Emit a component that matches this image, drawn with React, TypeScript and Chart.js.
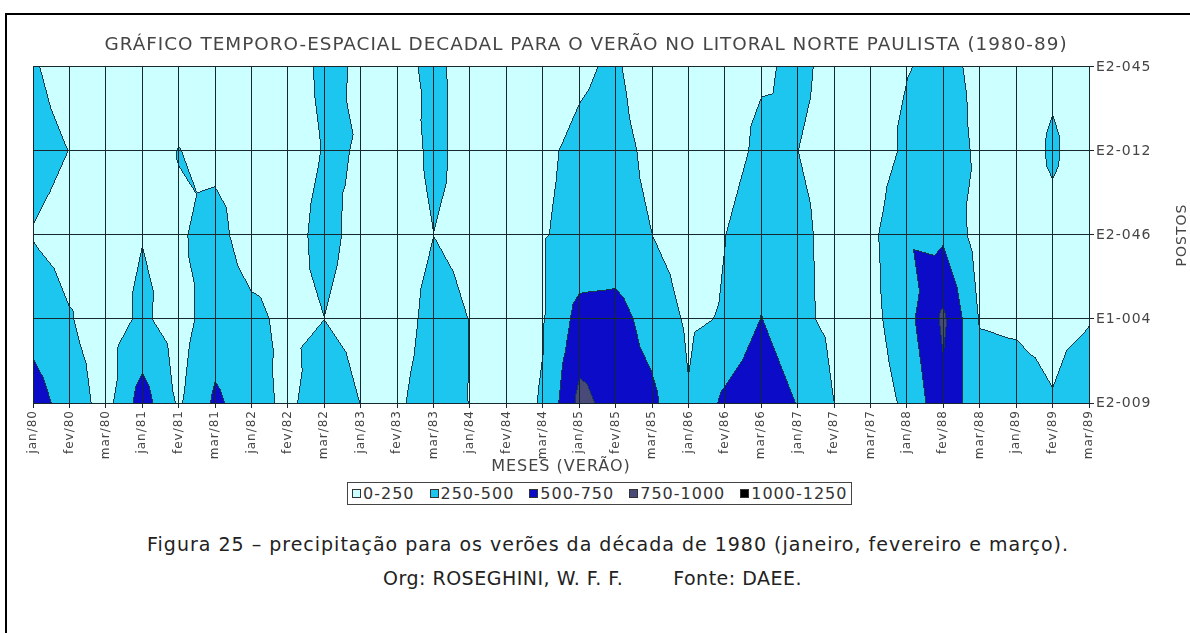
import React, { useEffect, useRef } from 'react';
import { Chart, registerables } from 'chart.js';

Chart.register(...registerables);

// ---------- data ----------
const months = ['jan/80','fev/80','mar/80','jan/81','fev/81','mar/81','jan/82','fev/82','mar/82','jan/83','fev/83','mar/83','jan/84','fev/84','mar/84','jan/85','fev/85','mar/85','jan/86','fev/86','mar/86','jan/87','fev/87','mar/87','jan/88','fev/88','mar/88','jan/89','fev/89','mar/89'];
const stations = ['E2-045', 'E2-012', 'E2-046', 'E1-004', 'E2-009'];

// precipitation (mm) per station, one value per month
const e2_045 = [275,150,120,150,160,170,150,135,300,224,199,290,185,150,150,220,280,122,150,180,223,290,199,180,242,300,209,150,201,150];
const e2_012 = [330,248,140,170,255,200,180,160,262,245,133,300,178,150,220,290,320,203,150,161,300,252,200,115,300,350,217,100,290,100];
const e2_046 = [240,170,200,245,228,320,150,170,320,177,150,250,200,160,240,300,330,252,150,248,390,290,200,190,480,463,145,150,174,150];
const e1_004 = [403,265,150,290,150,380,300,200,250,150,148,330,247,170,240,590,600,400,215,267,510,300,200,170,420,800,240,225,200,240];
const e2_009 = [618,391,160,623,220,545,380,180,460,248,220,350,246,170,265,820,660,560,270,560,700,490,252,120,300,696,330,330,262,365];
const stationValues = [e2_045, e2_012, e2_046, e1_004, e2_009];

const bandLimits = [250, 500, 750, 1000];
const bandLabels = ['0-250', '250-500', '500-750', '750-1000', '1000-1250'];
const bandColors = ['#ccffff', '#1cc6ee', '#0c0cc8', '#4a4a78', '#000000'];

const FONT = '"DejaVu Sans", Verdana, sans-serif';
const TEXT = '#454545';
const GRID = '#15282e';
const OUTLINE = '#173a48';

function hexToRgb(h: string) {
  const n = parseInt(h.slice(1), 16);
  return [(n >> 16) & 255, (n >> 8) & 255, n & 255];
}

// Fills the contour bands (each grid cell split in 4 triangles around its mean value)
const contourPlugin = {
  id: 'contourFill',
  beforeDatasetsDraw(chart: any) {
    const ctx = chart.ctx;
    const xs = chart.scales.x;
    const ys = chart.scales.y;
    const ds = chart.data.datasets;
    const nR = ds.length;
    const nC = ds[0].data.length;
    const grid: number[][] = ds.map((d: any) => d.data.map((p: any) => p.v));
    const px0 = xs.getPixelForValue(0);
    const px1 = xs.getPixelForValue(nC - 1);
    const py0 = ys.getPixelForValue(0);
    const py1 = ys.getPixelForValue(nR - 1);
    const left = Math.round(px0);
    const top = Math.round(py0);
    const W = Math.round(px1) - left + 1;
    const H = Math.round(py1) - top + 1;
    const cw = (px1 - px0) / (nC - 1);
    const rh = (py1 - py0) / (nR - 1);
    const band = new Uint8Array(W * H);
    for (let y = 0; y < H; y++) {
      const fy = (top + y + 0.5 - py0) / rh;
      let j = Math.floor(fy);
      if (j < 0) j = 0;
      if (j > nR - 2) j = nR - 2;
      const v = Math.min(1, Math.max(0, fy - j));
      for (let x = 0; x < W; x++) {
        const fx = (left + x + 0.5 - px0) / cw;
        let i = Math.floor(fx);
        if (i < 0) i = 0;
        if (i > nC - 2) i = nC - 2;
        const u = Math.min(1, Math.max(0, fx - i));
        const a = grid[j][i], b = grid[j][i + 1], d = grid[j + 1][i], e = grid[j + 1][i + 1];
        const c = (a + b + d + e) / 4;
        let f: number;
        if (v <= u && v <= 1 - u) f = a + (b - a) * u + (2 * c - a - b) * v;
        else if (v >= u && v >= 1 - u) f = d + (e - d) * u + (2 * c - d - e) * (1 - v);
        else if (u <= v && u <= 1 - v) f = a + (d - a) * v + (2 * c - a - d) * u;
        else f = b + (e - b) * v + (2 * c - b - e) * (1 - u);
        let k = 0;
        while (k < bandLimits.length && f >= bandLimits[k]) k++;
        band[y * W + x] = k;
      }
    }
    const off = document.createElement('canvas');
    off.width = W;
    off.height = H;
    const octx = off.getContext('2d')!;
    const img = octx.createImageData(W, H);
    const cols = bandColors.map(hexToRgb);
    const oc = hexToRgb(OUTLINE);
    for (let y = 0; y < H; y++) {
      for (let x = 0; x < W; x++) {
        const idx = y * W + x;
        const k = band[idx];
        let edge = false;
        if (x > 0 && band[idx - 1] < k) edge = true;
        else if (x < W - 1 && band[idx + 1] < k) edge = true;
        else if (y > 0 && band[idx - W] < k) edge = true;
        else if (y < H - 1 && band[idx + W] < k) edge = true;
        const col = edge ? oc : cols[k];
        img.data[idx * 4] = col[0];
        img.data[idx * 4 + 1] = col[1];
        img.data[idx * 4 + 2] = col[2];
        img.data[idx * 4 + 3] = 255;
      }
    }
    octx.putImageData(img, 0, 0);
    ctx.save();
    ctx.drawImage(off, left, top);
    ctx.restore();
  },
};

const spacingPlugin = {
  id: 'letterSpacing',
  beforeDraw(chart: any) {
    (chart.ctx as any).letterSpacing = '1px';
  },
};

const postosPlugin = {
  id: 'postosTitle',
  afterDraw(chart: any) {
    const { ctx, chartArea } = chart;
    ctx.save();
    ctx.font = `14px ${FONT}`;
    ctx.fillStyle = TEXT;
    ctx.textAlign = 'center';
    ctx.textBaseline = 'alphabetic';
    ctx.translate(1186, (chartArea.top + chartArea.bottom) / 2);
    ctx.rotate(-Math.PI / 2);
    ctx.fillText('POSTOS', 0, 0);
    ctx.restore();
  },
};

export default function App() {
  const ref = useRef<HTMLCanvasElement>(null);

  useEffect(() => {
    if (!ref.current) return;
    const datasets = stations.map((s, r) => ({
      label: s,
      xAxisID: 'x',
      yAxisID: 'y',
      data: months.map((m, c) => ({ x: m, y: s, v: stationValues[r][c] })),
      pointRadius: 0,
      pointHoverRadius: 0,
      showLine: false,
    }));
    const chart = new Chart(ref.current, {
      type: 'scatter',
      data: { datasets } as any,
      options: {
        animation: false,
        responsive: true,
        maintainAspectRatio: false,
        events: [],
        layout: { padding: { left: 0, right: 18, top: 0, bottom: 0 } },
        plugins: {
          legend: { display: false },
          tooltip: { enabled: false },
          title: {
            display: true,
            text: 'GRÁFICO TEMPORO-ESPACIAL DECADAL PARA O VERÃO NO LITORAL NORTE PAULISTA (1980-89)',
            color: TEXT,
            font: { family: FONT, size: 18.4, weight: 'normal' },
            padding: { top: 34, bottom: 10.9 },
          },
        },
        scales: {
          yl: {
            type: 'linear',
            position: 'left',
            min: 0,
            max: 1,
            grid: { display: false },
            border: { display: false },
            ticks: { display: false },
            afterFit: (s: any) => { s.width = 33; },
          },
          x: {
            type: 'category',
            labels: months,
            position: 'bottom',
            offset: false,
            grid: { color: GRID, lineWidth: 1, tickLength: 5, drawTicks: true, offset: false, z: 1 },
            border: { display: true, color: GRID, width: 1, z: 1 },
            ticks: {
              autoSkip: false,
              maxRotation: 90,
              minRotation: 90,
              padding: 2,
              color: TEXT,
              font: { family: FONT, size: 12 },
            },
            title: {
              display: true,
              text: 'MESES (VERÃO)',
              color: TEXT,
              font: { family: FONT, size: 16 },
              padding: { top: 0, bottom: 0.4 },
            },
            afterFit: (s: any) => { s.height = 74; },
          },
          y: {
            type: 'category',
            labels: stations,
            position: 'right',
            offset: false,
            grid: { color: GRID, lineWidth: 1, tickLength: 5, drawTicks: true, offset: false, z: 1 },
            border: { display: true, color: GRID, width: 1, z: 1 },
            ticks: { padding: 2, color: TEXT, font: { family: FONT, size: 14 } },
            afterFit: (s: any) => { s.width = 83; },
          },
        },
      } as any,
      plugins: [spacingPlugin, contourPlugin, postosPlugin],
    });
    return () => chart.destroy();
  }, []);

  return (
    <div style={{ position: 'fixed', left: 0, top: 0, width: 1190, height: 633, background: '#ffffff', overflow: 'hidden', fontFamily: FONT }}>
      <div style={{ position: 'absolute', left: 5, top: 13, width: 1200, height: 640, borderTop: '2px solid #000', borderLeft: '2px solid #000' }} />
      <div style={{ position: 'absolute', left: 0, top: 0, width: 1190, height: 477 }}>
        <canvas ref={ref} />
      </div>
      <div style={{ position: 'absolute', left: 347, top: 482, height: 21, border: '1px solid #444', display: 'flex', alignItems: 'center', padding: '0 4px', gap: 15, fontSize: 16, letterSpacing: '1px', color: '#333', whiteSpace: 'nowrap' }}>
        {bandLabels.map((l, i) => (
          <span key={l} style={{ display: 'flex', alignItems: 'center' }}>
            <span style={{ display: 'inline-block', width: 7, height: 7, background: bandColors[i], border: '1px solid #333', marginRight: 2 }} />
            {l}
          </span>
        ))}
      </div>
      <div style={{ position: 'absolute', left: 147, top: 533, fontSize: 19, letterSpacing: '1px', color: '#222', whiteSpace: 'nowrap' }}>
        Figura 25 – precipitação para os verões da década de 1980 (janeiro, fevereiro e março).
      </div>
      <div style={{ position: 'absolute', left: 383, top: 567, fontSize: 19, letterSpacing: '0.5px', color: '#222', whiteSpace: 'nowrap' }}>
        Org: ROSEGHINI, W. F. F.<span style={{ display: 'inline-block', width: 50 }} />Fonte: DAEE.
      </div>
    </div>
  );
}
